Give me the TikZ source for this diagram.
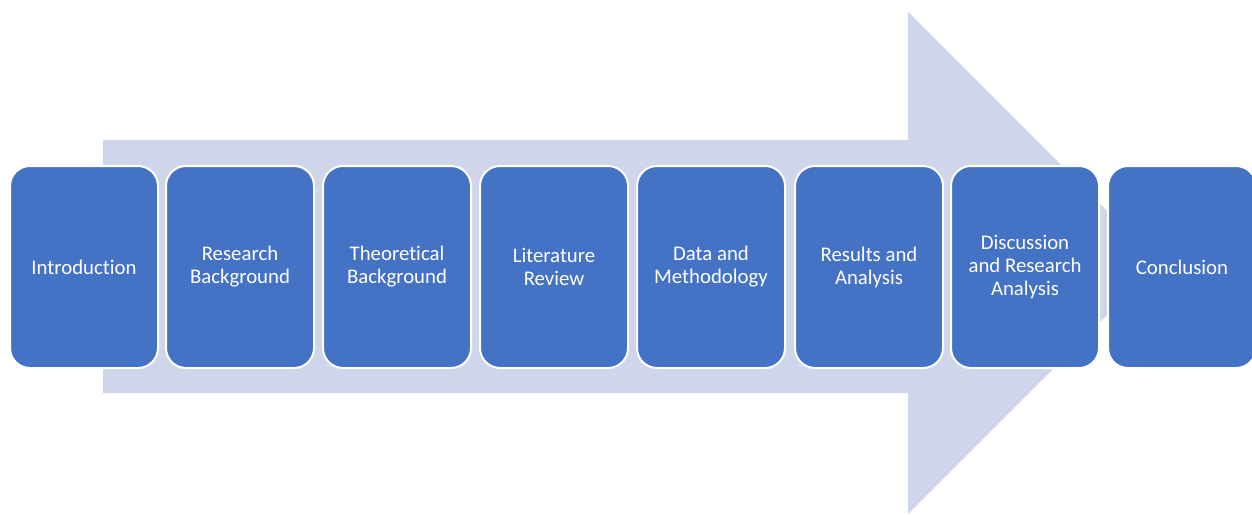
\documentclass[tikz,border=0pt]{standalone}
\usepackage{fontspec}
\setmainfont{Carlito}[Ligatures=NoCommon]
\definecolor{stageblue}{HTML}{4472C4}
\definecolor{arrowfill}{HTML}{CFD5EA}
\begin{document}
\begin{tikzpicture}[x=0.75pt,y=-0.75pt,
  stage/.style={draw=white, line width=1.5pt, fill=stageblue,
    rounded corners=15pt, minimum width=111pt, minimum height=151.5pt,
    text=white, align=center, inner sep=0pt,
    font=\fontsize{15.6}{17.25}\selectfont}]
\clip (0,0) rectangle (1252,514);
% background block arrow
\fill[arrowfill] (103,140) -- (908,140) -- (908,12) -- (1159,263)
  -- (908,514) -- (908,393) -- (103,393) -- cycle;
% process stages
\node[stage] (s1) at (84,267) {Introduction};
\node[stage] (s2) at (240,267) {Research\\Background};
\node[stage] (s3) at (397,267) {Theoretical\\Background};
\node[stage] (s4) at (554,267) {Literature\\Review};
\node[stage] (s5) at (711,267) {Data and\\Methodology};
\node[stage] (s6) at (869,267) {Results and\\Analysis};
\node[stage] (s7) at (1025,267) {Discussion\\and Research\\Analysis};
\node[stage] (s8) at (1182,267) {Conclusion};
\end{tikzpicture}
\end{document}
